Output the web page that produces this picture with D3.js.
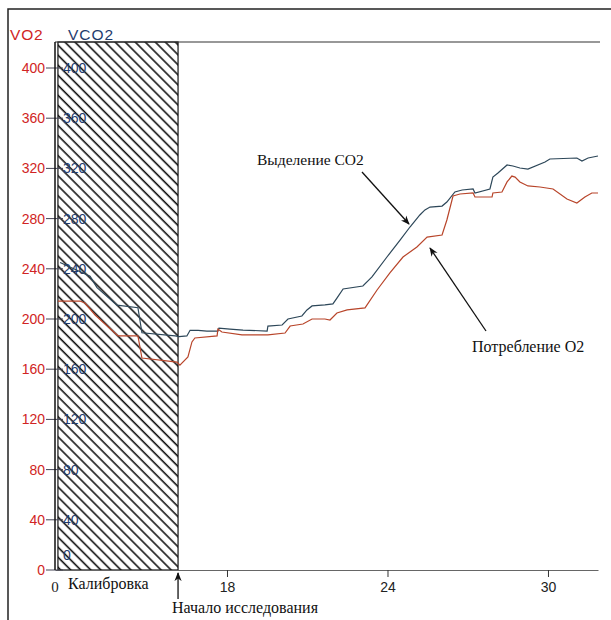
<!DOCTYPE html>
<html>
<head>
<meta charset="utf-8">
<script src="https://cdn.jsdelivr.net/npm/d3@7"></script>
<style>
  body { margin: 0; background: #fff; }
  svg { display: block; }
</style>
</head>
<body>
<div id="chart"></div>
<script>
// minutes on x, ml/min on y
const xStart = 11.57, xEnd = 31.87;
const calibStart = 11.68, calibEnd = 16.17;
const yTicks = [0, 40, 80, 120, 160, 200, 240, 280, 320, 360, 400];
const xTicks = [18, 24, 30];

const vco2 = [
  [11.76, 245], [12.88, 234], [13.14, 225], [13.89, 211], [14.67, 209], [14.82, 189],
  [16.06, 186.5], [16.21, 186], [16.5, 186.5], [16.62, 191], [16.92, 191], [17.25, 190.4],
  [17.66, 190.4], [17.7, 192.8], [18.11, 192], [18.6, 191.2], [19.5, 190.4], [19.53, 194.4],
  [20.06, 195.2], [20.28, 200], [20.8, 202.4], [20.99, 207.2], [21.18, 210.4], [21.66, 211.2],
  [21.96, 212], [22.11, 216.7], [22.34, 223.9], [23.08, 226.3], [23.42, 233.5], [23.98, 249.4],
  [24.47, 262.9], [24.84, 273.3], [25.21, 282.9], [25.4, 286.9], [25.59, 289.2], [26.04, 290],
  [26.22, 293.2], [26.52, 301.2], [26.79, 302.8], [27.2, 303.6], [27.27, 300.4], [27.83, 303.6],
  [27.94, 313.1], [28.13, 316.3], [28.47, 322.7], [28.69, 321.9], [28.95, 320.3], [29.25, 319.5],
  [29.89, 325.1], [30.07, 327.5], [31.08, 328.3], [31.27, 325.9], [31.5, 328.3], [31.87, 329.9]
];

const vo2 = [
  [11.68, 214.3], [12.5, 214.3], [12.69, 212.7], [13.07, 203.2], [13.93, 186.5], [14.67, 186.5],
  [14.82, 168.9], [16.13, 165.7], [16.24, 163.3], [16.54, 169.7], [16.69, 181.7], [16.8, 184.9],
  [17.63, 186.5], [17.66, 192], [17.81, 189.6], [18.56, 187.3], [19.53, 187.3], [20.17, 188.8],
  [20.36, 194.4], [20.84, 196], [21.18, 200], [21.66, 200], [21.85, 199.2], [22.11, 204.8],
  [22.49, 207.2], [23.16, 208.8], [23.61, 223.1], [24.09, 236.7], [24.58, 249.4], [25.1, 257.4],
  [25.48, 265.3], [26.04, 266.9], [26.22, 278.9], [26.45, 298], [26.71, 299.6], [27.2, 300.4],
  [27.27, 297.2], [27.91, 297.2], [27.94, 300.4], [28.28, 301.2], [28.47, 309.2], [28.65, 313.9],
  [28.77, 313.1], [28.95, 309.2], [29.25, 306], [29.7, 305.2], [30.19, 303.6], [30.71, 295.6],
  [31.08, 292.4], [31.38, 297.2], [31.64, 300.4], [31.87, 300.4]
];

const W = 611, H = 620;
const plot = { left: 55, right: 598, top: 42, bottom: 570 };
const redText = '#d02424', blueText = '#1f3c6e';
const redLine = '#b8452a', blueLine = '#2d4759';
const sans = 'Liberation Sans, Arial, sans-serif';
const serif = 'Liberation Serif, Times New Roman, serif';

const svg = d3.select('#chart').append('svg')
  .attr('width', W)
  .attr('height', H);

const defs = svg.append('defs');
defs.append('pattern')
  .attr('id', 'hatch')
  .attr('patternUnits', 'userSpaceOnUse')
  .attr('width', 7.1)
  .attr('height', 7.1)
  .attr('patternTransform', 'rotate(-45)')
  .append('line')
  .attr('x1', 2).attr('y1', 0).attr('x2', 2).attr('y2', 7.1)
  .attr('stroke', '#111')
  .attr('stroke-width', 1.6);

defs.append('marker')
  .attr('id', 'arrow')
  .attr('viewBox', '0 0 10 10')
  .attr('refX', 9).attr('refY', 5)
  .attr('markerWidth', 9).attr('markerHeight', 9)
  .attr('markerUnits', 'userSpaceOnUse')
  .attr('orient', 'auto')
  .append('path')
  .attr('d', 'M0,1 L10,5 L0,9 L3,5 Z')
  .attr('fill', '#111');

// outer frame of the picture
svg.append('path')
  .attr('d', `M8,${H} L8,9 L${W},9`)
  .attr('fill', 'none')
  .attr('stroke', '#222')
  .attr('stroke-width', 1.5);

const x = d3.scaleLinear().domain([xStart, xEnd]).range([plot.left, plot.right]);
const y = d3.scaleLinear().domain([0, 400]).range([plot.bottom, plot.bottom - 400 * 1.255]);

// calibration block
svg.append('rect')
  .attr('x', x(calibStart))
  .attr('y', plot.top)
  .attr('width', x(calibEnd) - x(calibStart))
  .attr('height', plot.bottom - plot.top)
  .attr('fill', 'url(#hatch)')
  .attr('stroke', '#111')
  .attr('stroke-width', 1.2);

// top frame line
svg.append('line')
  .attr('x1', plot.left).attr('x2', plot.right + 2)
  .attr('y1', plot.top).attr('y2', plot.top)
  .attr('stroke', '#333').attr('stroke-width', 1.2);

// x axis
const xAxis = svg.append('g')
  .attr('transform', `translate(0,${plot.bottom})`)
  .call(d3.axisBottom(x).tickValues(xTicks).tickSize(7).tickPadding(5).tickSizeOuter(0));
xAxis.select('.domain').attr('stroke', '#666');
xAxis.selectAll('.tick line').attr('stroke', '#333');
xAxis.selectAll('text')
  .attr('font-family', sans)
  .attr('font-size', 14)
  .attr('fill', '#222');

svg.append('text')
  .attr('x', plot.left).attr('y', 592)
  .attr('text-anchor', 'middle')
  .attr('font-family', serif)
  .attr('font-size', 15)
  .attr('fill', '#222')
  .text('0');

// y axes (VO2 red left, VCO2 blue right of the ticks)
const yg = svg.append('g');
yTicks.forEach(v => {
  yg.append('line')
    .attr('x1', 46).attr('x2', 63)
    .attr('y1', y(v)).attr('y2', y(v))
    .attr('stroke', '#445').attr('stroke-width', 1);
  yg.append('text')
    .attr('x', 45).attr('y', y(v))
    .attr('dy', '0.35em')
    .attr('text-anchor', 'end')
    .attr('font-family', sans)
    .attr('font-size', 14)
    .attr('fill', redText)
    .text(v);
  yg.append('text')
    .attr('x', 63).attr('y', v === 0 ? y(v) - 15 : y(v))
    .attr('dy', '0.35em')
    .attr('font-family', sans)
    .attr('font-size', 14)
    .attr('fill', blueText)
    .text(v);
});

svg.append('line')
  .attr('x1', plot.left).attr('x2', plot.left)
  .attr('y1', plot.top).attr('y2', plot.bottom)
  .attr('stroke', '#111').attr('stroke-width', 1.5);

svg.append('text')
  .attr('x', 10).attr('y', 40)
  .attr('font-family', sans)
  .attr('font-size', 15.5)
  .attr('letter-spacing', 0.8)
  .attr('fill', redText)
  .text('VO2');
svg.append('text')
  .attr('x', 68).attr('y', 40)
  .attr('font-family', sans)
  .attr('font-size', 15.5)
  .attr('letter-spacing', 1)
  .attr('fill', blueText)
  .text('VCO2');

// series
const line = d3.line()
  .x(d => x(d[0]))
  .y(d => y(d[1]));

svg.append('path')
  .datum(vco2)
  .attr('fill', 'none')
  .attr('stroke', blueLine)
  .attr('stroke-width', 1.2)
  .attr('d', line);

svg.append('path')
  .datum(vo2)
  .attr('fill', 'none')
  .attr('stroke', redLine)
  .attr('stroke-width', 1.2)
  .attr('d', line);

// annotations
svg.append('text')
  .attr('x', 257).attr('y', 165)
  .attr('font-family', serif).attr('font-size', 15.5).attr('fill', '#111')
  .text('Выделение CO2');
svg.append('line')
  .attr('x1', 362).attr('y1', 172).attr('x2', 409).attr('y2', 224)
  .attr('stroke', '#111').attr('stroke-width', 1.3)
  .attr('marker-end', 'url(#arrow)');

svg.append('text')
  .attr('x', 472).attr('y', 352)
  .attr('font-family', serif).attr('font-size', 16).attr('fill', '#111')
  .text('Потребление O2');
svg.append('line')
  .attr('x1', 486).attr('y1', 331).attr('x2', 430).attr('y2', 248)
  .attr('stroke', '#111').attr('stroke-width', 1.3)
  .attr('marker-end', 'url(#arrow)');

svg.append('text')
  .attr('x', 68).attr('y', 589)
  .attr('font-family', serif).attr('font-size', 16).attr('fill', '#111')
  .text('Калибровка');
svg.append('line')
  .attr('x1', x(calibEnd)).attr('y1', 599).attr('x2', x(calibEnd)).attr('y2', 573)
  .attr('stroke', '#111').attr('stroke-width', 1.3)
  .attr('marker-end', 'url(#arrow)');
svg.append('text')
  .attr('x', 172).attr('y', 613)
  .attr('font-family', serif).attr('font-size', 16).attr('fill', '#111')
  .text('Начало исследования');
</script>
</body>
</html>
